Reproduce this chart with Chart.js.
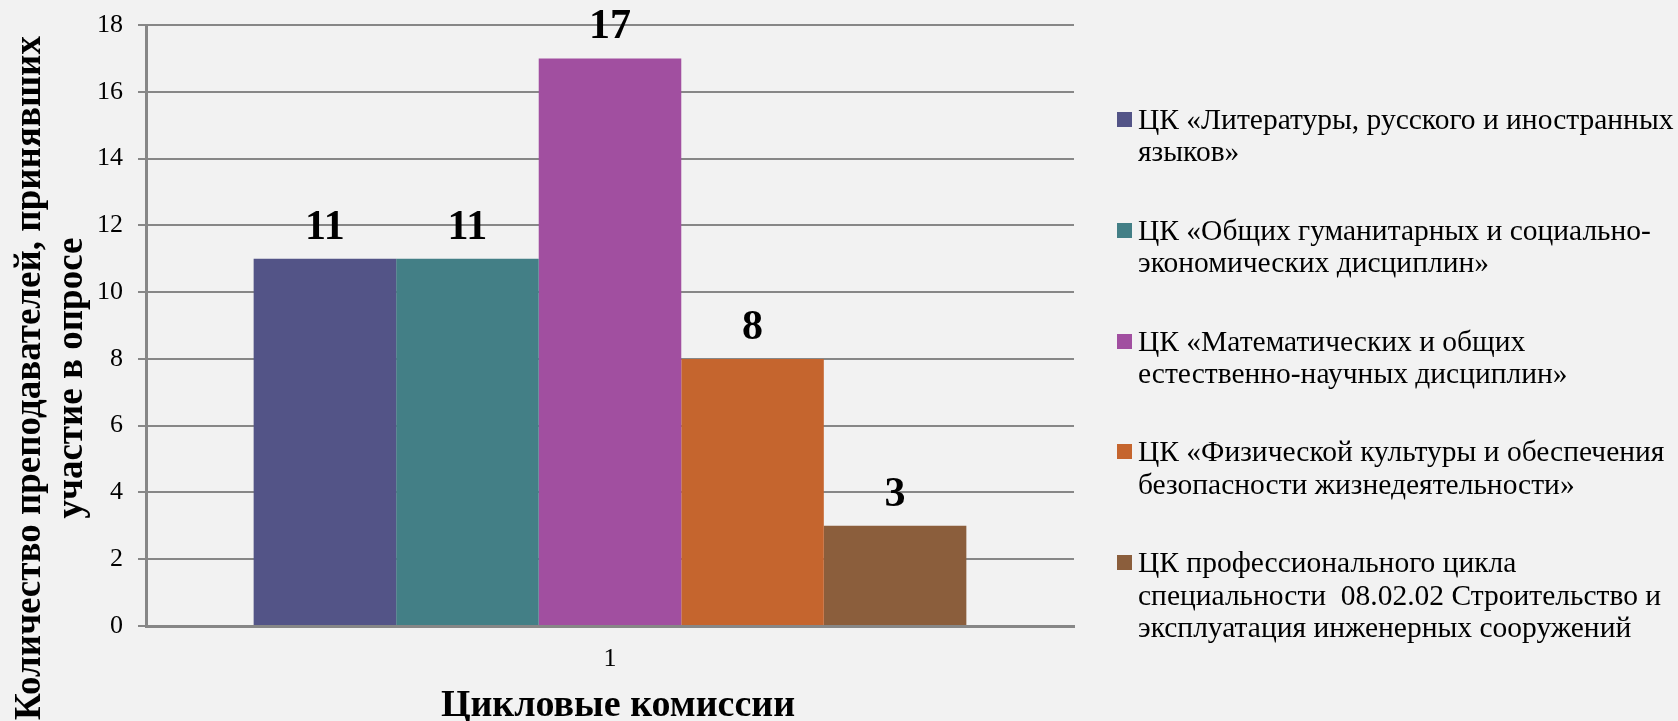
<!DOCTYPE html>
<html lang="ru">
<head>
<meta charset="utf-8">
<script src="https://cdn.jsdelivr.net/npm/chart.js@4"></script>
<style>
  html, body { margin: 0; padding: 0; background: #f2f2f2; }
  #wrap { position: relative; width: 1678px; height: 721px; }
  #legend {
    position: absolute; left: 1117px; top: 103px;
    font-family: "Liberation Serif", "Times New Roman", serif;
    font-size: 29.5px; line-height: 32.4px; color: #000; white-space: nowrap;
  }
  .item { display: flex; align-items: flex-start; margin-bottom: 46px; }
  .box { width: 15px; height: 15px; margin-top: 9px; margin-right: 6px; flex: none; }
</style>
</head>
<body>
<div id="wrap">
  <canvas id="surveyChart" width="1678" height="721"></canvas>
  <div id="legend"></div>
</div>
<script>
const categories = ['1'];
const seriesNames = [
  'ЦК «Литературы, русского и иностранных\nязыков»',
  'ЦК «Общих гуманитарных и социально-\nэкономических дисциплин»',
  'ЦК «Математических и общих\nестественно-научных дисциплин»',
  'ЦК «Физической культуры и обеспечения\nбезопасности жизнедеятельности»',
  'ЦК профессионального цикла\nспециальности \u00a008.02.02 Строительство и\nэксплуатация инженерных сооружений'
];
const seriesValues = [11, 11, 17, 8, 3];
const seriesColors = ['#535487', '#437f86', '#a14fa0', '#c5652e', '#8b5e3c'];
const yMax = 18;
const yStep = 2;
const xTitle = 'Цикловые комиссии';
const yTitle = ['Количество преподавателей, принявших', 'участие в опросе'];

// numbers above bars
const valueLabels = {
  id: 'valueLabels',
  afterDatasetsDraw(chart) {
    const ctx = chart.ctx;
    ctx.save();
    ctx.font = 'bold 42px "Liberation Serif"';
    ctx.fillStyle = '#000';
    ctx.textAlign = 'center';
    chart.data.datasets.forEach((ds, i) => {
      chart.getDatasetMeta(i).data.forEach((bar, j) => {
        ctx.fillText(ds.data[j], bar.x, bar.y - 20);
      });
    });
    ctx.restore();
  }
};

// axis titles (y title sits lower than the plot centre in the original)
const axisTitles = {
  id: 'axisTitles',
  afterDraw(chart) {
    const ctx = chart.ctx;
    ctx.save();
    ctx.fillStyle = '#000';
    ctx.textAlign = 'center';
    ctx.font = 'bold 38px "Liberation Serif"';
    ctx.fillText(xTitle, 618, 716);
    ctx.font = 'bold 37px "Liberation Serif"';
    ctx.translate(0, 378);
    ctx.rotate(-Math.PI / 2);
    yTitle.forEach((line, k) => ctx.fillText(line, 0, 40 + k * 42));
    ctx.restore();
  }
};

const ctx = document.getElementById('surveyChart').getContext('2d');
new Chart(ctx, {
  type: 'bar',
  data: {
    labels: categories,
    datasets: seriesValues.map((v, i) => ({
      label: seriesNames[i],
      data: [v],
      backgroundColor: seriesColors[i],
      borderWidth: 0
    }))
  },
  options: {
    responsive: false,
    animation: false,
    layout: { padding: { top: 25, right: 604, bottom: 0, left: 0 } },
    datasets: { bar: { barPercentage: 1, categoryPercentage: 0.768 } },
    plugins: { legend: { display: false }, tooltip: { enabled: false } },
    scales: {
      x: {
        afterFit: s => { s.height = 95; },
        grid: { display: false, drawTicks: false },
        border: { color: '#878787', width: 3 },
        ticks: { color: '#000', padding: 18, font: { family: 'Liberation Serif', size: 26 } }
      },
      y: {
        min: 0, max: yMax,
        afterFit: s => { s.width = 146; s.paddingTop = 0; s.paddingBottom = 0; },
        grid: { color: '#878787', lineWidth: 2, tickLength: 8 },
        border: { color: '#878787', width: 3 },
        ticks: { stepSize: yStep, color: '#000', padding: 15, font: { family: 'Liberation Serif', size: 26 } }
      }
    }
  },
  plugins: [valueLabels, axisTitles]
});

// legend with the original line breaks
const legend = document.getElementById('legend');
seriesNames.forEach((name, i) => {
  const item = document.createElement('div');
  item.className = 'item';
  const box = document.createElement('span');
  box.className = 'box';
  box.style.background = seriesColors[i];
  const text = document.createElement('span');
  text.innerHTML = name.split('\n').join('<br>');
  item.appendChild(box);
  item.appendChild(text);
  legend.appendChild(item);
});
</script>
</body>
</html>
